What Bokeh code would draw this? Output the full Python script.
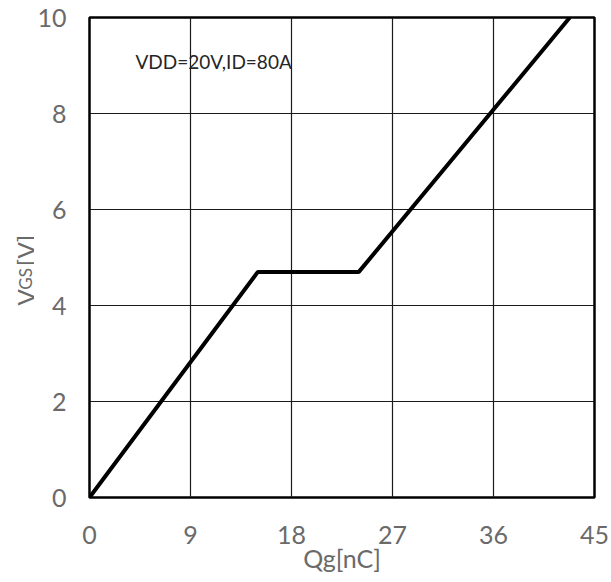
from bokeh.plotting import figure
from bokeh.models import Range1d, FixedTicker, Label
from bokeh.layouts import row
from bokeh.embed import file_html
from bokeh.resources import INLINE

# data
qg = [0, 15.0, 24.0, 42.8]
vgs = [0, 4.7, 4.7, 10.0]
x_ticks = [0, 9, 18, 27, 36, 45]
y_ticks = [0, 2, 4, 6, 8, 10]
note = "VDD=20V,ID=80A"
x_title = "Qg[nC]"
y_title_parts = ["V", "GS", "[V]"]

FONT = "Lato"
GREY = "#6a6a6a"
H = 582
STRIP_W = 34
TOP, BOTTOM = 17, 85

p = figure(width=611 - STRIP_W, height=H, output_backend="svg", toolbar_location=None,
           x_range=Range1d(0, 45), y_range=Range1d(0, 10),
           min_border_left=89 - STRIP_W, min_border_right=17,
           min_border_top=TOP, min_border_bottom=BOTTOM)
p.background_fill_color = "white"
p.border_fill_color = "white"
p.outline_line_color = "black"
p.outline_line_width = 2.5

for ax in (p.xaxis[0], p.yaxis[0]):
    ax.axis_line_color = None
    ax.major_tick_line_color = None
    ax.minor_tick_line_color = None
    ax.major_label_text_font = FONT
    ax.major_label_text_font_size = "25px"
    ax.major_label_text_color = GREY
p.xaxis[0].ticker = FixedTicker(ticks=x_ticks)
p.yaxis[0].ticker = FixedTicker(ticks=y_ticks)
p.xaxis[0].major_label_standoff = 22
p.yaxis[0].major_label_standoff = 17
p.xaxis[0].axis_label = x_title
p.xaxis[0].axis_label_text_font = FONT
p.xaxis[0].axis_label_text_font_size = "25px"
p.xaxis[0].axis_label_text_font_style = "normal"
p.xaxis[0].axis_label_text_color = GREY
p.xaxis[0].axis_label_standoff = -4

p.xgrid.ticker = FixedTicker(ticks=x_ticks)
p.ygrid.ticker = FixedTicker(ticks=y_ticks)
for g in (p.xgrid[0], p.ygrid[0]):
    g.grid_line_color = "#1a1a1a"
    g.grid_line_width = 1.2
    g.grid_line_alpha = 1.0

p.line(qg, vgs, line_color="black", line_width=4)

p.add_layout(Label(x=4.1, y=9.08, text=note, text_font=FONT, text_font_size="19px",
                   text_color="#262626", text_baseline="middle", text_align="left"))

# left strip carrying the y-axis title (V with subscript GS); same vertical scale as the chart
s = figure(width=STRIP_W, height=H, output_backend="svg", toolbar_location=None,
           x_range=Range1d(0, STRIP_W), y_range=Range1d(0, 10),
           x_axis_type=None, y_axis_type=None,
           min_border_left=0, min_border_right=0, min_border_top=TOP, min_border_bottom=BOTTOM)
s.outline_line_color = None
s.grid.visible = False
s.background_fill_color = "white"
s.border_fill_color = "white"
starts = [4.0, 4.33, 4.82]
sizes = ["24px", "17px", "24px"]
for txt, y0, fs in zip(y_title_parts, starts, sizes):
    s.add_layout(Label(x=25, y=y0, text=txt, angle=1.5708, text_font=FONT, text_font_size=fs,
                       text_color=GREY, text_align="left", text_baseline="alphabetic"))

layout = row(s, p, spacing=0)
open("out.html", "w").write(file_html(layout, INLINE))
